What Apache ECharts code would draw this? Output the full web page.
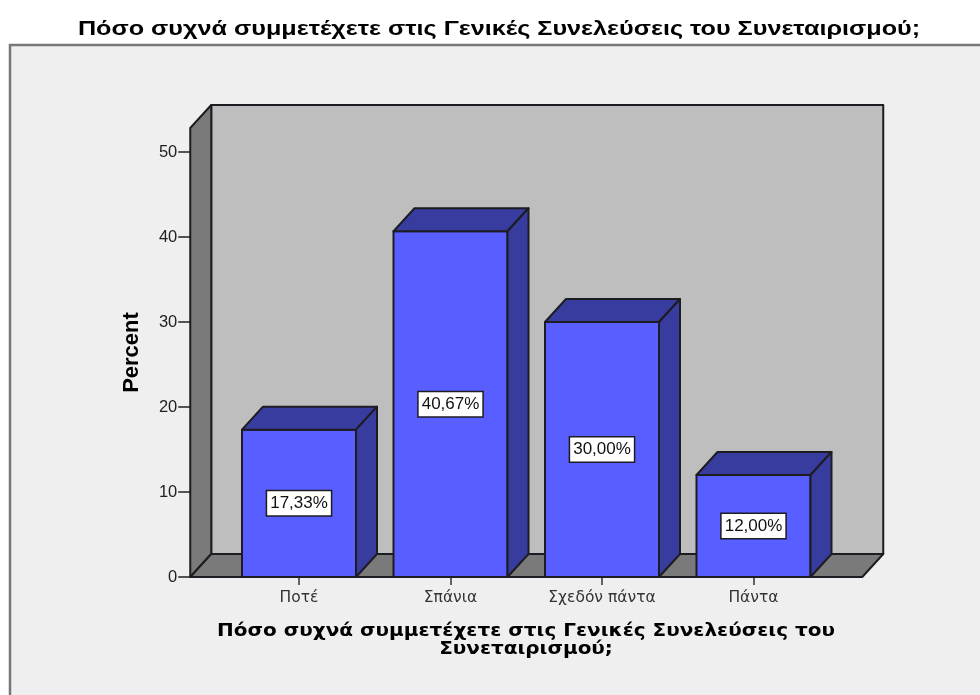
<!DOCTYPE html>
<html><head><meta charset="utf-8">
<style>html,body{margin:0;padding:0;background:#fff}#c{width:980px;height:695px}</style>
<script src="https://cdn.jsdelivr.net/npm/echarts@6/dist/echarts.min.js"></script>
</head><body><div id="c"></div>
<script>
const chartTitle = 'Πόσο συχνά συμμετέχετε στις Γενικές Συνελεύσεις του Συνεταιρισμού;';
const axisTitleLines = ['Πόσο συχνά συμμετέχετε στις Γενικές Συνελεύσεις του', 'Συνεταιρισμού;'];
const yAxisTitle = 'Percent';
const categories = ['Ποτέ', 'Σπάνια', 'Σχεδόν πάντα', 'Πάντα'];
const percents = [17.33, 40.67, 30.00, 12.00];
const tickValues = [0, 10, 20, 30, 40, 50];

const DX = 21, DY = -23, PAD = 33, BAR_RATIO = 0.7525;
const line = '#1c1c22';
const poly = (pts, fill, z2) => ({type:'polygon', z2, shape:{points:pts},
  style:{fill, stroke:line, lineWidth:2, lineJoin:'round'}});

function renderBox(params, api) {
  const x = api.coord([api.value(0), api.value(1)]);
  const base = api.coord([api.value(0), 0]);
  const w = api.size([1, 0])[0] * BAR_RATIO;
  const l = x[0] - w / 2, r = x[0] + w / 2, t = x[1], b = base[1];
  const label = api.value(1).toFixed(2).replace('.', ',') + '%';
  return {type:'group', children:[
    poly([[l,b],[r,b],[r,t],[l,t]], '#585eff', 10),
    poly([[l,t],[r,t],[r+DX,t+DY],[l+DX,t+DY]], '#383c9e', 10),
    poly([[r,b],[r,t],[r+DX,t+DY],[r+DX,b+DY]], '#383c9e', 10),
    {type:'text', z2:12, style:{text:label, x:x[0], y:(t+b)/2, align:'center', verticalAlign:'middle',
      font:'17px "Liberation Sans", Arial, sans-serif', fill:'#111', backgroundColor:'#fff',
      borderColor:'#1c1c22', borderWidth:1.5, padding:[4,3,3,3]}}
  ]};
}

function renderRoom(params, api) {
  const cs = params.coordSys;
  const L = cs.x - PAD, R = cs.x + cs.width + PAD, T = cs.y, B = cs.y + cs.height;
  return {type:'group', children:[
    poly([[L+DX,T+DY],[R+DX,T+DY],[R+DX,B+DY],[L+DX,B+DY]], '#bebebe', 1),
    poly([[L,T],[L+DX,T+DY],[L+DX,B+DY],[L,B]], '#7a7a7a', 2),
    poly([[L,B],[L+DX,B+DY],[R+DX,B+DY],[R,B]], '#7a7a7a', 2)
  ]};
}

const chart = echarts.init(document.getElementById('c'), null, {renderer:'canvas'});
chart.setOption({
  animation:false,
  backgroundColor:'#fff',
  graphic:[
    {type:'rect', z:-1, shape:{x:10,y:45,width:990,height:680},
     style:{fill:'#efefef', stroke:'#777', lineWidth:2.5}},
    {type:'text', x:499, y:29, scaleX:1.2, style:{text:chartTitle, fill:'#000', x:0, y:0,
      align:'center', verticalAlign:'middle', font:'bold 21px "Liberation Sans", Arial, sans-serif'}},
    {type:'text', x:526, y:631, scaleX:1.11, style:{text:axisTitleLines[0], fill:'#000', x:0, y:0,
      align:'center', verticalAlign:'middle', font:'bold 18px "DejaVu Sans", Verdana, sans-serif'}},
    {type:'text', x:526, y:649, scaleX:1.11, style:{text:axisTitleLines[1], fill:'#000', x:0, y:0,
      align:'center', verticalAlign:'middle', font:'bold 18px "DejaVu Sans", Verdana, sans-serif'}}
  ],
  grid:{left:223.25, right:150.75, top:128, bottom:118},
  xAxis:{type:'category', data:categories, axisLine:{show:false},
    axisTick:{show:true, alignWithLabel:true, length:8, lineStyle:{color:'#333', width:1.5}},
    axisLabel:{color:'#333', fontSize:15.5, margin:12.5, interval:0, fontFamily:'"DejaVu Sans", Verdana, sans-serif'}},
  yAxis:{type:'value', min:0, max:52.82, offset:33, name:yAxisTitle, nameLocation:'middle', nameGap:47,
    nameTextStyle:{color:'#000', fontWeight:'bold', fontSize:22, fontFamily:'"Liberation Sans", Arial, sans-serif'},
    axisLine:{show:false}, splitLine:{show:false}, minorTick:{show:false},
    axisTick:{show:true, length:12, customValues:tickValues, lineStyle:{color:'#222', width:1.5}},
    axisLabel:{customValues:tickValues, color:'#222', fontSize:16.5, margin:13, padding:[6,0,0,0], fontFamily:'"Liberation Sans", Arial, sans-serif'}},
  series:[
    {type:'custom', coordinateSystem:'cartesian2d', renderItem:renderRoom, data:[[0,0]], silent:true, z:1, clip:false},
    {type:'custom', coordinateSystem:'cartesian2d', renderItem:renderBox, z:3, clip:false,
     encode:{x:0,y:1}, data:percents.map((v,i)=>[i,v])}
  ]
});
</script></body></html>
